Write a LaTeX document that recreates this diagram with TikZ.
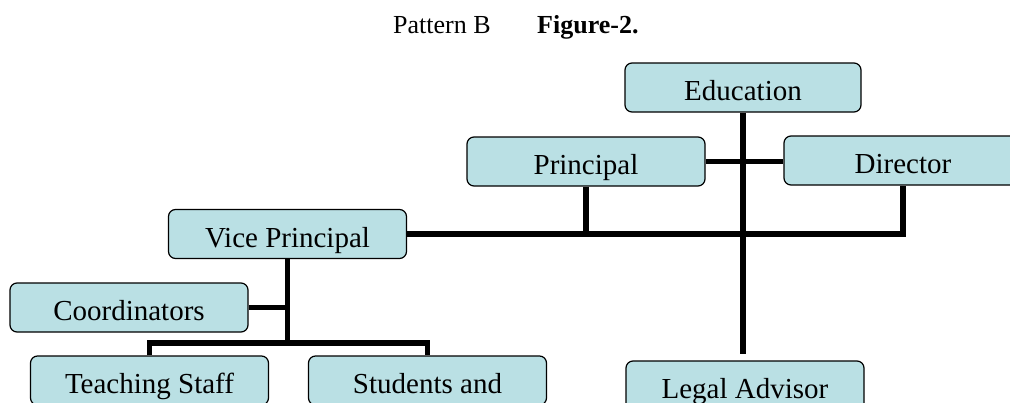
\documentclass[tikz,border=0pt]{standalone}
\usepackage{fontspec}
\setmainfont{Liberation Serif}
\usetikzlibrary{calc,backgrounds}
\usepackage{xcolor}
\definecolor{boxfill}{RGB}{186,224,228}
\tikzset{
 orgbox/.style={draw=black, line width=1.2pt, rounded corners=7pt, fill=boxfill,
  minimum width=238pt, minimum height=49pt, inner sep=0pt,
  text height=26pt, text depth=0pt, font=\fontsize{29}{34}\selectfont},
 link/.style={black, line width=5.5pt}
}

\begin{document}
\begin{tikzpicture}[x=1pt, y=-1pt]
\useasboundingbox (0,0) rectangle (1010,402);
\clip (0,0) rectangle (1010,402);
% title
\node[anchor=base west, inner sep=0, font=\fontsize{26}{30}\selectfont] (pat) at (393,33) {Pattern B};
\node[anchor=base west, inner sep=0, font=\fontsize{26}{30}\selectfont\bfseries] (fig) at (537,33) {Figure-2.};
% boxes
\node[orgbox, minimum width=236pt] (edu) at (743,87.5) {Education};
\node[orgbox] (prin) at (586,161.5) {Principal};
\node[orgbox] (dir) at (903,160.5) {Director};
\node[orgbox] (vp) at (287.5,234) {Vice Principal};
\node[orgbox] (coord) at (129,307.5) {Coordinators};
\node[orgbox] (teach) at (149.5,380.5) {Teaching Staff};
\node[orgbox] (stud) at (427.5,380.5) {Students and};
\node[orgbox] (legal) at (745,385.5) {Legal Advisor};
\coordinate (vpfork) at ($(vp.south |- 0,343)$);
% links
\begin{scope}[on background layer]
 \draw[link, shorten >=6pt] (edu.south) -- (edu.south |- legal.north);
 \draw[link] (prin.east) -- (prin.east -| dir.west);
 \draw[link] (prin.south) -- (prin.south |- vp.east) -| (dir.south);
 \draw[link] (vp.east) -- (prin.south |- vp.east);
 \draw[link] (vp.south) -- (vpfork);
 \draw[link] (coord.east) -- (coord.east -| vp.south);
 \draw[link] (teach.north) |- (vpfork) -| (stud.north);
\end{scope}
\end{tikzpicture}
\end{document}
